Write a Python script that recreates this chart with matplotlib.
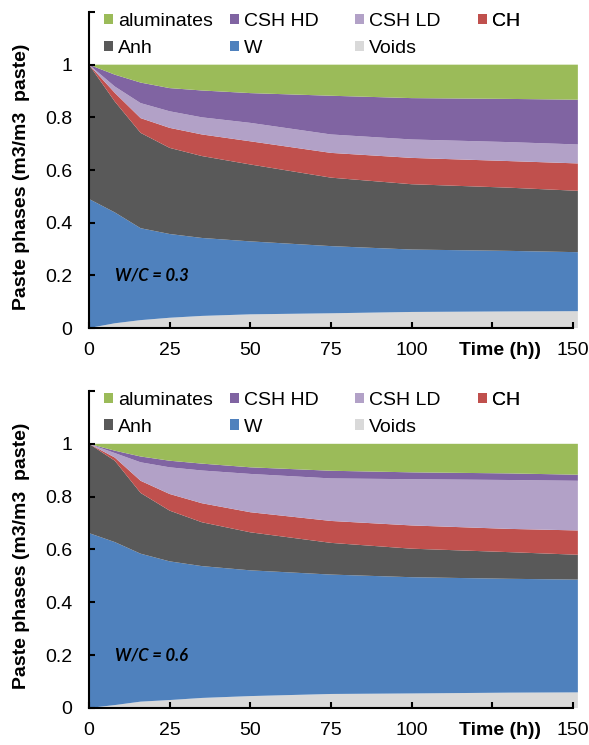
import matplotlib.pyplot as plt
from matplotlib.transforms import blended_transform_factory

plt.rcParams["font.family"] = "Liberation Sans"
plt.rcParams["font.size"] = 14

# hydration time (h)
time_h = [0, 8, 16, 25, 35, 50, 75, 100, 130, 151.5]

# phase volume fractions, W/C = 0.3
voids_03 = [0.0, 0.018, 0.030, 0.039, 0.046, 0.052, 0.056, 0.061, 0.063, 0.064]
water_03 = [0.49, 0.421, 0.349, 0.318, 0.296, 0.277, 0.255, 0.237, 0.230, 0.224]
anh_03 = [0.51, 0.421, 0.362, 0.327, 0.311, 0.292, 0.260, 0.248, 0.240, 0.233]
ch_03 = [0.0, 0.033, 0.056, 0.076, 0.082, 0.088, 0.094, 0.100, 0.101, 0.104]
csh_ld_03 = [0.0, 0.024, 0.057, 0.063, 0.065, 0.070, 0.070, 0.070, 0.072, 0.072]
csh_hd_03 = [0.0, 0.045, 0.078, 0.088, 0.102, 0.113, 0.147, 0.157, 0.164, 0.170]
alum_03 = [0.0, 0.038, 0.068, 0.089, 0.098, 0.108, 0.118, 0.127, 0.130, 0.133]

# phase volume fractions, W/C = 0.6
voids_06 = [0.0, 0.011, 0.024, 0.030, 0.038, 0.045, 0.053, 0.055, 0.058, 0.059]
water_06 = [0.662, 0.617, 0.560, 0.525, 0.499, 0.476, 0.452, 0.440, 0.431, 0.427]
anh_06 = [0.338, 0.308, 0.230, 0.192, 0.166, 0.144, 0.120, 0.108, 0.101, 0.094]
ch_06 = [0.0, 0.012, 0.046, 0.063, 0.072, 0.076, 0.083, 0.088, 0.088, 0.092]
csh_ld_06 = [0.0, 0.017, 0.070, 0.101, 0.124, 0.145, 0.161, 0.175, 0.185, 0.188]
csh_hd_06 = [0.0, 0.009, 0.022, 0.025, 0.026, 0.025, 0.029, 0.026, 0.025, 0.023]
alum_06 = [0.0, 0.026, 0.048, 0.064, 0.075, 0.089, 0.102, 0.108, 0.112, 0.117]

labels = ["Voids", "W", "Anh", "CH", "CSH LD", "CSH HD", "aluminates"]
colors = ["#D9D9D9", "#4F81BD", "#595959", "#C0504D", "#B2A1C7", "#8064A2", "#9BBB59"]

y_ticks = [0, 0.2, 0.4, 0.6, 0.8, 1.0, 1.2]
y_ticklabels = ["0", "0.2", "0.4", "0.6", "0.8", "1", ""]
x_ticks = [0, 25, 50, 75, 100, 125, 150]
x_ticklabels = ["0", "25", "50", "75", "100", "", "150"]

# legend laid out in fixed-width columns
legend_cols = [["aluminates", "Anh"], ["CSH HD", "W"], ["CSH LD", "Voids"], ["CH"]]
legend_x = [0.0307, 0.2883, 0.5440, 0.7955]


def draw_panel(ax, fractions, wc_text):
    polys = ax.stackplot(time_h, *fractions, colors=colors, linewidth=0)
    by_label = dict(zip(labels, polys))

    ax.set_xlim(0, 151.5)
    ax.set_ylim(0, 1.2)
    ax.set_xticks(x_ticks)
    ax.set_xticklabels(x_ticklabels)
    ax.set_yticks(y_ticks)
    ax.set_yticklabels(y_ticklabels)
    ax.tick_params(direction="in", length=4, width=1.5, color="black")
    ax.tick_params(axis="y", pad=12)
    ax.tick_params(axis="x", pad=10)
    for side in ("top", "right"):
        ax.spines[side].set_visible(False)
    for side in ("left", "bottom"):
        ax.spines[side].set_linewidth(1.5)
    ax.spines["bottom"].set_bounds(0, 150)

    trans = blended_transform_factory(ax.transData, ax.transAxes)
    ax.text(127.5, -0.07, "Time (h))", transform=trans, ha="center",
            va="center", fontweight="bold")
    ax.text(8, 0.2, wc_text, family="Lato", style="italic", fontweight="bold",
            fontsize=12, ha="left", va="center")

    for x, col in zip(legend_x, legend_cols):
        leg = ax.legend([by_label[n] for n in col], col, loc="upper left",
                        bbox_to_anchor=(x, 0.997), frameon=False,
                        borderpad=0, borderaxespad=0, handlelength=0.45,
                        handleheight=0.45, handletextpad=0.26,
                        labelspacing=0.5)
        ax.add_artist(leg)


fig = plt.figure(figsize=(5.89, 7.45), dpi=100)
ax_top = fig.add_axes([0.1511, 0.5597, 0.830, 0.4242])
ax_bot = fig.add_axes([0.1511, 0.0497, 0.830, 0.4255])

draw_panel(ax_top, [voids_03, water_03, anh_03, ch_03, csh_ld_03, csh_hd_03, alum_03],
           "W/C = 0.3")
draw_panel(ax_bot, [voids_06, water_06, anh_06, ch_06, csh_ld_06, csh_hd_06, alum_06],
           "W/C = 0.6")

fig.text(0.037, 0.762, "Paste phases (m3/m3  paste)", rotation=90,
         ha="center", va="center", fontweight="bold")
fig.text(0.037, 0.254, "Paste phases (m3/m3  paste)", rotation=90,
         ha="center", va="center", fontweight="bold")

fig.savefig("out.png", dpi=100)
